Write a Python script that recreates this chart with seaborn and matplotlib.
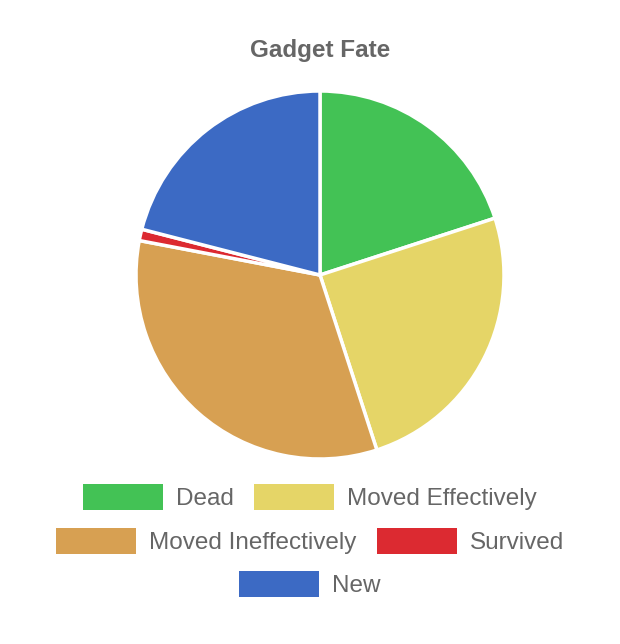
import matplotlib
matplotlib.use("Agg")
import matplotlib.pyplot as plt
import seaborn as sns

# gadget fate shares (percent)
labels = ["Dead", "Moved Effectively", "Moved Ineffectively", "Survived", "New"]
values = [20, 25, 33, 1, 21]
colors = ["#43c255", "#e5d567", "#d7a052", "#dc2a31", "#3c6ac4"]

sns.set_theme(style="white")
plt.rcParams["font.family"] = ["Liberation Sans", "DejaVu Sans"]

fig = plt.figure(figsize=(6.2, 6.44), dpi=100)
fig.patch.set_facecolor("white")

# pie centre at (320, 275) px, radius 184 px
ax = fig.add_axes([136 / 620, 1 - 459 / 644, 368 / 620, 368 / 644])
wedges, _ = ax.pie(values, colors=colors, startangle=90, counterclock=False,
                   radius=1, wedgeprops={"edgecolor": "white", "linewidth": 2.5,
                                         "clip_on": False})
ax.set_xlim(-1, 1)
ax.set_ylim(-1, 1)
ax.set_aspect("equal")
ax.axis("off")

fig.text(320 / 620, 1 - 50 / 644, "Gadget Fate", ha="center", va="center",
         fontsize=17.5, fontweight="bold", color="#666666")

# legend laid out in centred rows, like the original
rows = [[0, 1], [2, 3], [4]]
row_y = [497, 541, 584]
fs = 17.5
for idx, y in zip(rows, row_y):
    leg = fig.legend([wedges[i] for i in idx], [labels[i] for i in idx],
                     loc="center", bbox_to_anchor=(0.5, 1 - y / 644),
                     ncol=len(idx), frameon=False, fontsize=fs,
                     handlelength=80 / (fs * 100 / 72), handleheight=1.3,
                     handletextpad=0.54, columnspacing=0.82,
                     borderpad=0, borderaxespad=0)
    for t in leg.get_texts():
        t.set_color("#666666")
    for h in leg.legend_handles:
        h.set_linewidth(0)

fig.savefig("out.png", dpi=100, facecolor="white")
